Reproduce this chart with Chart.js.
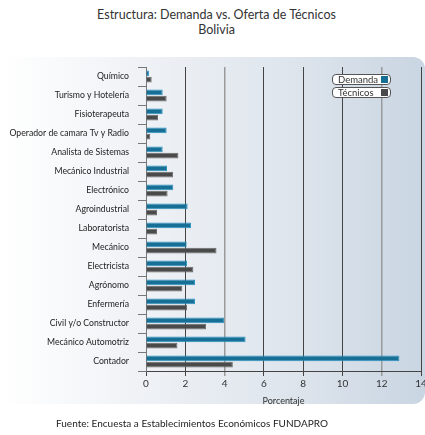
<!DOCTYPE html>
<html><head><meta charset="utf-8">
<script src="https://cdn.jsdelivr.net/npm/chart.js@4.4.1/dist/chart.umd.min.js"></script>
<style>
body{margin:0;background:#fff;}
#wrap{position:relative;width:425px;height:435px;font-family:Lato,sans-serif;color:#333;overflow:hidden}
#panel{position:absolute;left:0;top:57px;width:425px;height:347px;background:linear-gradient(to right,#ffffff 0%,#eef1f5 35%,#dde4ec 70%,#c9d5e2 100%);border-radius:0 12px 12px 0;}
#title{position:absolute;left:4px;top:7px;width:425px;text-align:center;font-size:12.5px;line-height:15px;color:#333}
#footer{position:absolute;left:0;top:417px;width:384px;text-align:center;font-size:10px;color:#222}
canvas{position:absolute;left:0;top:0}
.leg{position:absolute;left:332px;height:9px;border:1px solid #555;border-radius:4px;background:#fff;font-size:9.5px;line-height:9px;padding-left:5px;box-sizing:content-box;width:52px}
.leg span{position:absolute;right:2px;top:1px;width:7px;height:7px}
</style></head>
<body>
<div id="wrap">
<div id="panel"></div>
<div id="title">Estructura: Demanda vs. Oferta de Técnicos<br>Bolivia</div>
<canvas id="c" width="425" height="435"></canvas>
<div class="leg" style="top:74px">Demanda<span style="background:#176f96"></span></div>
<div class="leg" style="top:87px">Técnicos<span style="background:#4a4a4a"></span></div>
<div id="footer">Fuente: Encuesta a Establecimientos Económicos FUNDAPRO</div>
</div>
<script>
const categories = ["Químico","Turismo y Hotelería","Fisioterapeuta","Operador de camara Tv y Radio","Analista de Sistemas","Mecánico Industrial","Electrónico","Agroindustrial","Laboratorista","Mecánico","Electricista","Agrónomo","Enfermería","Civil y/o Constructor","Mecánico Automotriz","Contador"];
const demanda = [0.15,0.85,0.85,1.05,0.85,1.07,1.39,2.12,2.29,2.07,2.09,2.5,2.5,3.98,5.07,12.9];
const tecnicos = [0.29,1.05,0.61,0.22,1.65,1.38,1.1,0.56,0.56,3.59,2.41,1.85,2.09,3.06,1.6,4.42];
const xTicks = [0,2,4,6,8,10,12,14];

new Chart(document.getElementById('c'), {
  type: 'bar',
  data: {
    labels: categories,
    datasets: [
      {label:'Demanda', data: demanda, backgroundColor:'#176f96', borderColor:'#2b93c2', borderWidth:1, categoryPercentage:0.64, barPercentage:0.95},
      {label:'Técnicos', data: tecnicos, backgroundColor:'#4a4a4a', borderColor:'#6c6c6c', borderWidth:1, categoryPercentage:0.64, barPercentage:0.95}
    ]
  },
  options: {
    indexAxis: 'y',
    responsive: false,
    animation: false,
    layout: {padding:{top:67,right:4,bottom:29,left:0}},
    plugins: {legend:{display:false}, tooltip:{enabled:false}},
    scales: {
      x: {
        min: 0, max: 14,
        afterBuildTicks: s => { s.ticks = xTicks.map(v => ({value:v})); },
        afterFit: s => { s.height = 35; s.paddingLeft = 0; s.paddingRight = 0; },
        ticks: {color:'#333', font:{family:'Lato', size:10}, padding:2, maxRotation:0},
        grid: {color: c => (c.tick && (c.tick.value===4 || c.tick.value===12)) ? '#9a9a9a' : '#444', lineWidth: c => (c.tick && (c.tick.value===4 || c.tick.value===12)) ? 1.5 : 1, tickLength:5},
        border: {color:'#444'},
        title: {display:true, text:'Porcentaje', color:'#333', font:{family:'Lato', size:9}, padding:{top:4,bottom:0}}
      },
      y: {
        afterFit: s => { s.width = 146; },
        ticks: {color:'#222', font:{family:'Lato', size:8.7}, padding:9},
        grid: {drawOnChartArea:false, color:'#777', tickLength:8},
        border: {color:'#777'}
      }
    }
  }
});
</script>
</body></html>
